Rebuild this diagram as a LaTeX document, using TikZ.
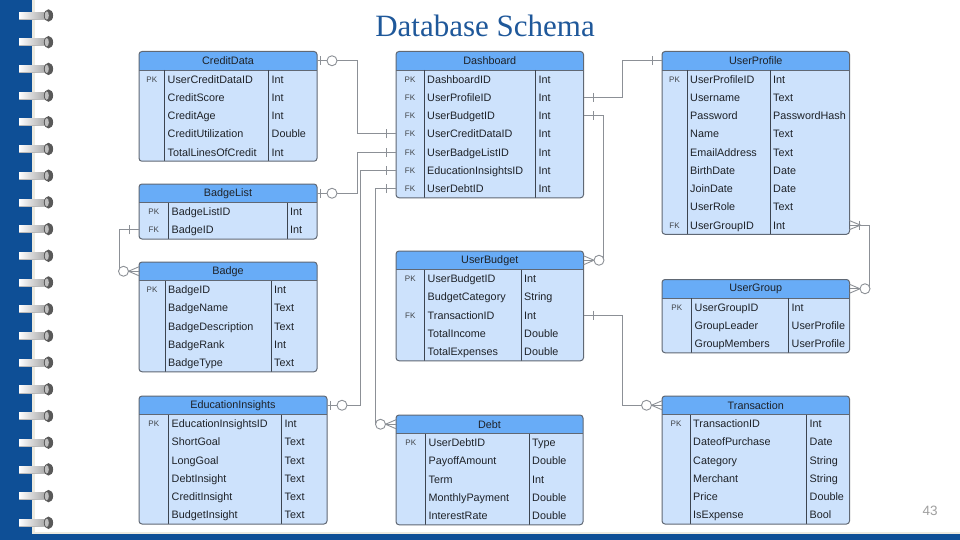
\documentclass[tikz,border=0pt]{standalone}
\usepackage{fontspec}
\setmainfont{Liberation Sans}
\newfontfamily\titlefont{Liberation Serif}
\definecolor{spine}{RGB}{14,79,150}
\definecolor{cream}{RGB}{236,234,224}
\definecolor{hdrfill}{RGB}{104,172,247}
\definecolor{bodyfill}{RGB}{205,226,252}
\definecolor{bordergray}{RGB}{96,104,116}
\definecolor{colgray}{RGB}{60,68,80}
\definecolor{linegray}{RGB}{140,144,150}
\definecolor{titleblue}{RGB}{31,88,154}
\definecolor{txt}{RGB}{30,34,40}
\tikzset{
  conn/.style={draw=linegray, line width=0.9pt},
  hdrnode/.style={inner sep=0pt, outer sep=0pt, minimum height=18.5pt, font=\fontsize{10.8}{12}\selectfont, text=txt},
  rownode/.style={inner sep=0pt, outer sep=0pt, minimum height=18.25pt},
  keytxt/.style={inner sep=0pt, anchor=base, font=\fontsize{8}{9}\selectfont, text=txt!85},
  fldtxt/.style={inner sep=0pt, anchor=base west, font=\fontsize{10.8}{12}\selectfont, text=txt},
  pics/one/.style={code={\draw[conn] (10,-4.5) -- (10,4.5);}},
  pics/zo/.style={code={\draw[conn] (3,-4.5) -- (3,4.5); \draw[conn, fill=white] (15,0) circle[radius=5pt];}},
  pics/zm/.style={code={\draw[conn] (0,-4.5) -- (10.5,0) -- (0,4.5); \draw[conn, fill=white] (15.5,0) circle[radius=5pt];}},
  pics/om/.style={code={\draw[conn] (0,-4.5) -- (11,0) -- (0,4.5); \draw[conn] (10,-4.5) -- (10,4.5);}},
}
% #1 id, #2 x left, #3 col1, #4 col2, #5 x right, #6 y top, #7 title, #8 rows, #9 number of rows
\newcommand{\ertable}[9]{%
  \pgfmathsetmacro{\yh}{#6+18.5}%
  \pgfmathsetmacro{\yb}{\yh+#9*18.25}%
  \pgfmathsetmacro{\xm}{(#2+#5)/2}%
  \pgfmathsetmacro{\tw}{#5-#2}%
  \pgfmathsetmacro{\xk}{(#2+#3)/2}%
  \fill[bodyfill, rounded corners=3pt] (#2,#6) rectangle (#5,\yb);
  \fill[hdrfill, rounded corners=3pt] (#2,#6) rectangle (#5,\yh);
  \fill[hdrfill] (#2,#6+9) rectangle (#5,\yh);
  \draw[bordergray, line width=0.9pt] (#2,\yh) -- (#5,\yh);
  \draw[colgray, line width=1pt] (#3,\yh) -- (#3,\yb) (#4,\yh) -- (#4,\yb);
  \draw[bordergray, line width=1pt, rounded corners=3pt] (#2,#6) rectangle (#5,\yb);
  \node[hdrnode, minimum width=\tw pt] (#1) at (\xm,#6+9.25) {#7};
  \foreach \k/\n/\t [count=\i] in {#8} {
    \pgfmathsetmacro{\yy}{\yh+(\i-0.5)*18.25}
    \node[rownode, minimum width=\tw pt] (#1-\i) at (\xm,\yy) {};
    \node[keytxt] (#1-\i-k) at (\xk,\yy+2.9) {\k};
    \node[fldtxt] (#1-\i-n) at (#3+3,\yy+3.9) {\n};
    \node[fldtxt] (#1-\i-t) at (#4+3,\yy+3.9) {\t};
  }
}
\begin{document}
\begin{tikzpicture}[x=1pt, y=-1pt]
\useasboundingbox (0,0) rectangle (960,540);
% background
\fill[spine] (0,0) rectangle (960,540);
\fill[cream] (31.5,0) rectangle (960,534);
\fill[white] (35,0) rectangle (960,532);
% spiral rings
\foreach \i in {0,...,19} {
  \pgfmathsetmacro{\ry}{15.5+26.7*\i}
  \shade[left color=white, right color=gray!70] (19,\ry-3.4) rectangle (46,\ry+3.4);
  \draw[gray!55, line width=0.4pt] (19,\ry+3.4) -- (46,\ry+3.4);
  \fill[gray!70!black] (48.5,\ry) ellipse[x radius=4.6pt, y radius=6.2pt];
  \fill[gray!50] (46.8,\ry) ellipse[x radius=2pt, y radius=4.2pt];
}
% title
\node[anchor=base, font=\titlefont\fontsize{31}{33}\selectfont, text=titleblue] (title) at (485,36.5) {Database Schema};
\node[anchor=base, font=\fontsize{13.5}{15}\selectfont, text=gray!75] (pageno) at (930,515) {43};
% tables
\ertable{cd}{139}{164.5}{268.5}{317}{51.5}{CreditData}{PK/UserCreditDataID/Int, {}/CreditScore/Int, {}/CreditAge/Int, {}/CreditUtilization/Double, {}/TotalLinesOfCredit/Int}{5}
\ertable{db}{396}{424}{535.5}{583.5}{51.5}{Dashboard}{PK/DashboardID/Int, FK/UserProfileID/Int, FK/UserBudgetID/Int, FK/UserCreditDataID/Int, FK/UserBadgeListID/Int, FK/EducationInsightsID/Int, FK/UserDebtID/Int}{7}
\ertable{up}{662}{687}{770}{849.5}{51.5}{UserProfile}{PK/UserProfileID/Int, {}/Username/Text, {}/Password/PasswordHash, {}/Name/Text, {}/EmailAddress/Text, {}/BirthDate/Date, {}/JoinDate/Date, {}/UserRole/Text, FK/UserGroupID/Int}{9}
\ertable{bl}{139}{168.5}{287}{317}{184}{BadgeList}{PK/BadgeListID/Int, FK/BadgeID/Int}{2}
\ertable{bd}{139}{165}{271}{317}{262}{Badge}{PK/BadgeID/Int, {}/BadgeName/Text, {}/BadgeDescription/Text, {}/BadgeRank/Int, {}/BadgeType/Text}{5}
\ertable{ub}{396}{424.5}{521}{583.5}{251}{UserBudget}{PK/UserBudgetID/Int, {}/BudgetCategory/String, FK/TransactionID/Int, {}/TotalIncome/Double, {}/TotalExpenses/Double}{5}
\ertable{ug}{662}{691.5}{788.5}{849.5}{279.5}{UserGroup}{PK/UserGroupID/Int, {}/GroupLeader/UserProfile, {}/GroupMembers/UserProfile}{3}
\ertable{ei}{139}{168.5}{281.5}{327}{396}{EducationInsights}{PK/EducationInsightsID/Int, {}/ShortGoal/Text, {}/LongGoal/Text, {}/DebtInsight/Text, {}/CreditInsight/Text, {}/BudgetInsight/Text}{6}
\ertable{dt}{396}{425.5}{529}{583}{415}{Debt}{PK/UserDebtID/Type, {}/PayoffAmount/Double, {}/Term/Int, {}/MonthlyPayment/Double, {}/InterestRate/Double}{5}
\ertable{tr}{662}{690}{806.5}{849.5}{396}{Transaction}{PK/TransactionID/Int, {}/DateofPurchase/Date, {}/Category/String, {}/Merchant/String, {}/Price/Double, {}/IsExpense/Bool}{6}
% connectors
\draw[conn] (cd.east) -- ++(40,0) |- (db-4.west);
\draw[conn] (bl.east) -- ++(40,0) |- (db-5.west);
\draw[conn] (ei.east) -- ++(33.5,0) |- (db-6.west);
\draw[conn] (dt.west) -- ++(-20.5,0) |- (db-7.west);
\draw[conn] (db-2.east) -- ++(39,0) |- (up.west);
\draw[conn] (db-3.east) -- ++(19.5,0) |- (ub.east);
\draw[conn] (up-9.east) -- ++(20,0) |- (ug.east);
\draw[conn] (ub-3.east) -- ++(39,0) |- (tr.west);
\draw[conn] (bl-2.west) -- ++(-20,0) |- (bd.west);
% end marks
\pic at (cd.east) {zo};
\pic at (bl.east) {zo};
\pic at (ei.east) {zo};
\pic[rotate=180] at (dt.west) {zm};
\pic[rotate=180] at (db-4.west) {one};
\pic[rotate=180] at (db-5.west) {one};
\pic[rotate=180] at (db-6.west) {one};
\pic[rotate=180] at (db-7.west) {one};
\pic at (db-2.east) {one};
\pic[rotate=180] at (up.west) {one};
\pic at (db-3.east) {one};
\pic at (ub.east) {zm};
\pic at (up-9.east) {om};
\pic at (ug.east) {zm};
\pic at (ub-3.east) {one};
\pic[rotate=180] at (tr.west) {zm};
\pic[rotate=180] at (bl-2.west) {one};
\pic[rotate=180] at (bd.west) {zm};
\end{tikzpicture}
\end{document}
